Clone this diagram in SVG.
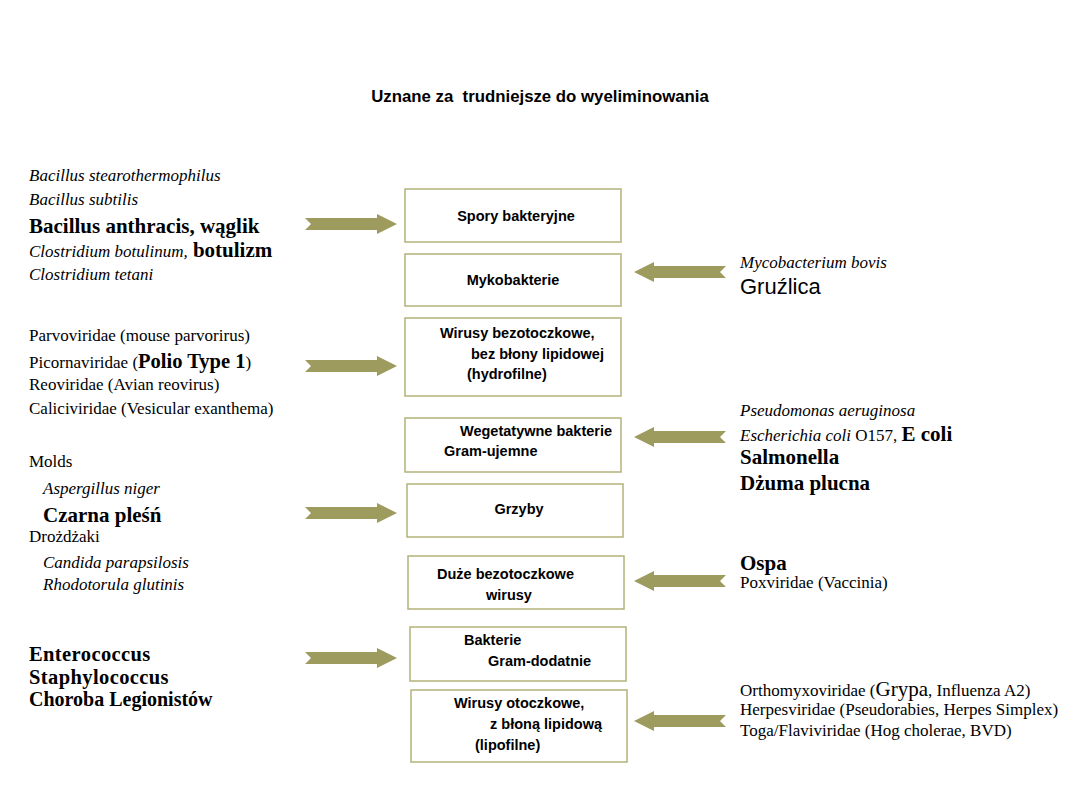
<svg xmlns="http://www.w3.org/2000/svg" width="1080" height="810" viewBox="0 0 1080 810">
<style>
.box{fill:#fff;stroke:#b3b27a;stroke-width:1.5}
.bt{font-family:"Liberation Sans",Arial,sans-serif;font-weight:bold;font-size:14.5px;fill:#000}
.t{font-family:"Liberation Serif","Times New Roman",serif;font-size:17px;fill:#000}
.i{font-style:italic}
.b{font-weight:bold;font-size:21px}
.arrow{fill:#9e9b5f}
</style>
<defs>
<path id="ar" d="M0,-6 L72,-6 L72,-10 L92,0 L72,10 L72,6 L0,6 L6,0 Z"/>
</defs>
<rect width="1080" height="810" fill="#fff"/>
<text x="540" y="102" text-anchor="middle" xml:space="preserve" style="font-family:'Liberation Sans',Arial,sans-serif;font-weight:bold;font-size:16.8px">Uznane za  trudniejsze do wyeliminowania</text>

<g id="connectors" class="arrow">
<use href="#ar" transform="translate(305,224)"/>
<use href="#ar" transform="translate(305,366)"/>
<use href="#ar" transform="translate(305,513)"/>
<use href="#ar" transform="translate(305,658)"/>
<use href="#ar" transform="translate(726,272) scale(-1,1)"/>
<use href="#ar" transform="translate(726,437) scale(-1,1)"/>
<use href="#ar" transform="translate(726,581) scale(-1,1)"/>
<use href="#ar" transform="translate(726,721) scale(-1,1)"/>
</g>

<g id="n1"><rect class="box" x="405" y="189" width="216" height="53"/><text class="bt" x="516" y="221" text-anchor="middle">Spory bakteryjne</text></g>
<g id="n2"><rect class="box" x="405" y="254" width="216" height="52"/><text class="bt" x="513" y="285" text-anchor="middle">Mykobakterie</text></g>
<g id="n3"><rect class="box" x="405" y="318" width="216" height="78"/><text class="bt" x="440" y="338">Wirusy bezotoczkowe,</text><text class="bt" x="471" y="359">bez błony lipidowej</text><text class="bt" x="467" y="379">(hydrofilne)</text></g>
<g id="n4"><rect class="box" x="405" y="418" width="216" height="54"/><text class="bt" x="460" y="436">Wegetatywne bakterie</text><text class="bt" x="444" y="456">Gram-ujemne</text></g>
<g id="n5"><rect class="box" x="407" y="484" width="216" height="53"/><text class="bt" x="519" y="514" text-anchor="middle">Grzyby</text></g>
<g id="n6"><rect class="box" x="408" y="556" width="216" height="53"/><text class="bt" x="437" y="579">Duże bezotoczkowe</text><text class="bt" x="486" y="600">wirusy</text></g>
<g id="n7"><rect class="box" x="410" y="627" width="216" height="54"/><text class="bt" x="464" y="645">Bakterie</text><text class="bt" x="488" y="666">Gram-dodatnie</text></g>
<g id="n8"><rect class="box" x="411" y="690" width="216" height="72"/><text class="bt" x="454" y="708">Wirusy otoczkowe,</text><text class="bt" x="490" y="729">z błoną lipidową</text><text class="bt" x="475" y="750">(lipofilne)</text></g>

<g id="left-text" class="t">
<text class="i" x="29" y="181">Bacillus stearothermophilus</text>
<text class="i" x="29" y="205">Bacillus subtilis</text>
<text class="b" x="29" y="233">Bacillus anthracis, wąglik</text>
<text x="29" y="257"><tspan class="i">Clostridium botulinum,</tspan><tspan class="b"> botulizm</tspan></text>
<text class="i" x="29" y="280">Clostridium tetani</text>
<text x="29" y="341">Parvoviridae (mouse parvorirus)</text>
<text x="29" y="368">Picornaviridae (<tspan class="b" style="font-size:20.5px">Polio Type 1</tspan>)</text>
<text x="29" y="390">Reoviridae (Avian reovirus)</text>
<text x="29" y="414">Caliciviridae (Vesicular exanthema)</text>
<text x="29" y="467">Molds</text>
<text class="i" x="43" y="494">Aspergillus niger</text>
<text class="b" x="43" y="522">Czarna pleśń</text>
<text x="29" y="542">Drożdżaki</text>
<text class="i" x="43" y="568">Candida parapsilosis</text>
<text class="i" x="43" y="590">Rhodotorula glutinis</text>
<text class="b" x="29" y="661" style="font-size:20.5px;letter-spacing:0.4px">Enterococcus</text>
<text class="b" x="29" y="684" style="font-size:20.5px;letter-spacing:0.4px">Staphylococcus</text>
<text class="b" x="29" y="706" style="font-size:20px">Choroba Legionistów</text>
</g>

<g id="right-text" class="t">
<text class="i" x="740" y="268">Mycobacterium bovis</text>
<text x="740" y="294" style="font-family:'Liberation Sans',Arial,sans-serif;font-size:22px">Gruźlica</text>
<text class="i" x="740" y="416">Pseudomonas aeruginosa</text>
<text x="740" y="441"><tspan class="i">Escherichia coli</tspan> O157, <tspan style="font-size:21px;font-weight:bold">E coli</tspan></text>
<text class="b" x="740" y="464">Salmonella</text>
<text class="b" x="740" y="490">Dżuma plucna</text>
<text class="b" x="740" y="570">Ospa</text>
<text x="740" y="588">Poxviridae (Vaccinia)</text>
<text x="740" y="696">Orthomyxoviridae (<tspan style="font-size:21px">Grypa</tspan>, Influenza A2)</text>
<text x="740" y="715">Herpesviridae (Pseudorabies, Herpes Simplex)</text>
<text x="740" y="736">Toga/Flaviviridae (Hog cholerae, BVD)</text>
</g>
</svg>
